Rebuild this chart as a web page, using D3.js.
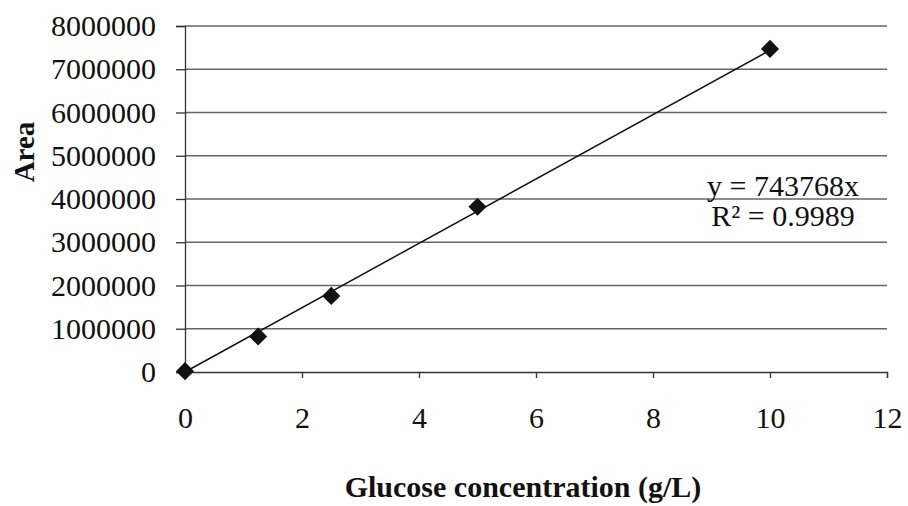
<!DOCTYPE html>
<html>
<head>
<meta charset="utf-8">
<script src="https://cdn.jsdelivr.net/npm/d3@7"></script>
<style>
  body { margin: 0; background: #fff; }
  svg text { font-family: "Liberation Serif", "Times New Roman", serif; fill: #111; }
</style>
</head>
<body>
<div class="canvas"></div>
<script>
// glucose standard curve
const concentrations = [0, 1.25, 2.5, 5, 10];
const areas = [20000, 820000, 1760000, 3820000, 7470000];
const slope = 743768;
const xTicks = [0, 2, 4, 6, 8, 10, 12];
const yTicks = [0, 1000000, 2000000, 3000000, 4000000, 5000000, 6000000, 7000000, 8000000];
const eqLines = ['y = 743768x', 'R² = 0.9989'];

const dims = { width: 908, height: 506 };
const margin = { top: 26, right: 21, bottom: 134, left: 185 };
const w = dims.width - margin.left - margin.right;
const h = dims.height - margin.top - margin.bottom;
const serif = '"Liberation Serif", "Times New Roman", serif';

const svg = d3.select('.canvas')
    .append('svg')
    .attr('width', dims.width)
    .attr('height', dims.height);

const graph = svg.append('g')
    .attr('transform', `translate(${margin.left},${margin.top})`);

const x = d3.scaleLinear().domain([0, 12]).range([0, w]);
const y = d3.scaleLinear().domain([0, 8000000]).range([h, 0]);

// horizontal gridlines
graph.selectAll('line.grid')
    .data(yTicks.slice(1))
    .enter().append('line')
    .attr('class', 'grid')
    .attr('x1', 0).attr('x2', w)
    .attr('y1', d => y(d)).attr('y2', d => y(d))
    .attr('stroke', '#666')
    .attr('stroke-width', 1.3);

// axes
const yAxis = graph.append('g')
    .call(d3.axisLeft(y).tickValues(yTicks).tickFormat(d3.format('d')).tickSize(9).tickPadding(20));
const xAxis = graph.append('g')
    .attr('transform', `translate(0,${h})`)
    .call(d3.axisBottom(x).tickValues(xTicks).tickFormat(d3.format('d')).tickSize(6).tickPadding(29));

[yAxis, xAxis].forEach(a => {
    a.attr('font-family', serif).attr('font-size', 30);
    a.select('.domain').attr('stroke', '#333').attr('stroke-width', 1.3);
    a.selectAll('.tick line').attr('stroke', '#333').attr('stroke-width', 1.3);
    a.selectAll('text').attr('fill', '#111');
});
xAxis.selectAll('text').attr('dy', '0.71em');

// trendline
graph.append('line')
    .attr('x1', x(0)).attr('y1', y(0))
    .attr('x2', x(10)).attr('y2', y(slope * 10))
    .attr('stroke', '#111')
    .attr('stroke-width', 1.5);

// markers
const diamond = d3.symbol().type(d3.symbolDiamond2).size(210);
graph.selectAll('path.pt')
    .data(concentrations.map((c, i) => ({ c, a: areas[i] })))
    .enter().append('path')
    .attr('class', 'pt')
    .attr('d', diamond)
    .attr('transform', d => `translate(${x(d.c)},${y(d.a)})`)
    .attr('fill', '#111');

// equation
svg.selectAll('text.eq')
    .data(eqLines)
    .enter().append('text')
    .attr('class', 'eq')
    .attr('x', 783)
    .attr('y', (d, i) => 196 + i * 30)
    .attr('text-anchor', 'middle')
    .attr('font-size', 30)
    .text(d => d);

// axis titles
svg.append('text')
    .attr('transform', 'translate(34,152) rotate(-90)')
    .attr('text-anchor', 'middle')
    .attr('font-size', 29)
    .attr('font-weight', 'bold')
    .text('Area');

svg.append('text')
    .attr('x', 523)
    .attr('y', 497)
    .attr('text-anchor', 'middle')
    .attr('font-size', 30)
    .attr('font-weight', 'bold')
    .text('Glucose concentration (g/L)');
</script>
</body>
</html>
